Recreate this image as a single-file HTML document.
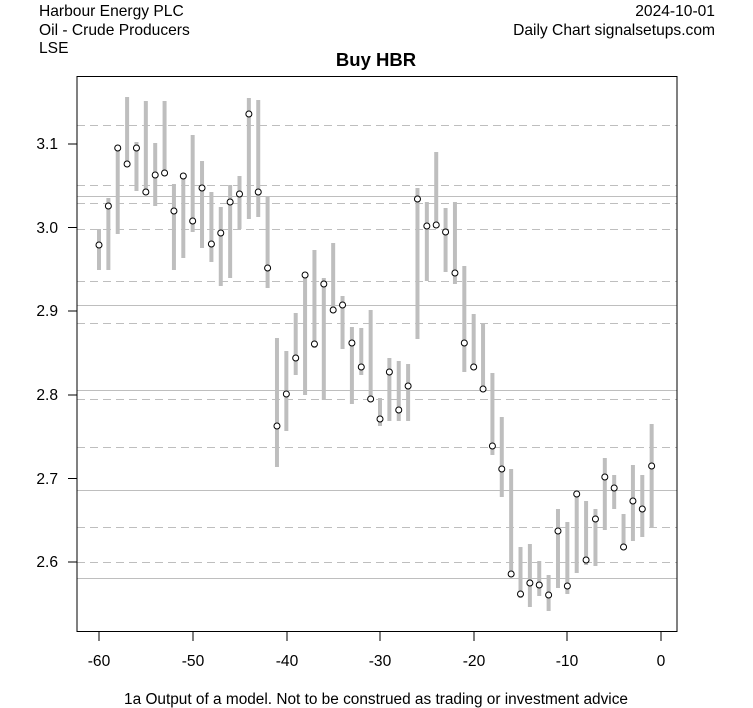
<!DOCTYPE html>
<html><head><meta charset="utf-8"><style>
html,body{margin:0;padding:0;background:#fff;}
svg{display:block;font-family:"Liberation Sans",Arial,sans-serif;}
</style></head><body>
<svg width="753" height="708" viewBox="0 0 753 708" xmlns="http://www.w3.org/2000/svg">
<rect width="753" height="708" fill="#fff"/>
<g font-size="15.6" fill="#000">
<text x="39" y="16">Harbour Energy PLC</text>
<text x="39" y="35">Oil - Crude Producers</text>
<text x="39" y="53">LSE</text>
<text x="715" y="16" text-anchor="end">2024-10-01</text>
<text x="715" y="35" text-anchor="end">Daily Chart signalsetups.com</text>
<text x="376" y="66" text-anchor="middle" font-weight="bold" font-size="18.5">Buy HBR</text>
<text x="376" y="704" text-anchor="middle" font-size="15.4">1a Output of a model. Not to be construed as trading or investment advice</text>
</g>
<g stroke="#bebebe" stroke-width="1">
<g stroke-dasharray="8,5">
<line x1="77" x2="677" y1="125.5" y2="125.5"/>
<line x1="77" x2="677" y1="185.5" y2="185.5"/>
<line x1="77" x2="677" y1="203.5" y2="203.5"/>
<line x1="77" x2="677" y1="229.5" y2="229.5"/>
<line x1="77" x2="677" y1="281.5" y2="281.5"/>
<line x1="77" x2="677" y1="323.5" y2="323.5"/>
<line x1="77" x2="677" y1="399.5" y2="399.5"/>
<line x1="77" x2="677" y1="447.5" y2="447.5"/>
<line x1="77" x2="677" y1="527.5" y2="527.5"/>
<line x1="77" x2="677" y1="562.5" y2="562.5"/>
</g>
<line x1="77" x2="677" y1="196.5" y2="196.5"/>
<line x1="77" x2="677" y1="305.5" y2="305.5"/>
<line x1="77" x2="677" y1="390.5" y2="390.5"/>
<line x1="77" x2="677" y1="490.5" y2="490.5"/>
<line x1="77" x2="677" y1="578.5" y2="578.5"/>
</g>
<g id="bars" stroke="#bebebe" stroke-width="4"></g>
<g id="pts" fill="none" stroke="#000" stroke-width="1"></g>
<rect x="77" y="76.5" width="600" height="555" fill="none" stroke="#000" stroke-width="1"/>
<g stroke="#000" stroke-width="1">
<line x1="68" x2="77" y1="144" y2="144"/>
<line x1="68" x2="77" y1="227.5" y2="227.5"/>
<line x1="68" x2="77" y1="311" y2="311"/>
<line x1="68" x2="77" y1="395" y2="395"/>
<line x1="68" x2="77" y1="478.5" y2="478.5"/>
<line x1="68" x2="77" y1="562" y2="562"/>
<line x1="99" x2="99" y1="631" y2="641"/>
<line x1="193" x2="193" y1="631" y2="641"/>
<line x1="287" x2="287" y1="631" y2="641"/>
<line x1="380" x2="380" y1="631" y2="641"/>
<line x1="474" x2="474" y1="631" y2="641"/>
<line x1="567" x2="567" y1="631" y2="641"/>
<line x1="661" x2="661" y1="631" y2="641"/>
</g>
<g font-size="15.6" fill="#000" text-anchor="end">
<text x="58" y="149">3.1</text>
<text x="58" y="233">3.0</text>
<text x="58" y="316">2.9</text>
<text x="58" y="400">2.8</text>
<text x="58" y="484">2.7</text>
<text x="58" y="567">2.6</text>
</g>
<g font-size="15.6" fill="#000" text-anchor="middle">
<text x="99" y="666">-60</text>
<text x="193" y="666">-50</text>
<text x="287" y="666">-40</text>
<text x="380" y="666">-30</text>
<text x="474" y="666">-20</text>
<text x="567" y="666">-10</text>
<text x="661" y="666">0</text>
</g>
<script>
var d=[[229,270,245],[198,270,206],[147,234,148],[97,164,164],[142,191,148],[101,192,192],[143,206,175],[101,173,173],[184,270,211],[173,258,176],[135,232,221],[161,248,188],[192,262,244],[207,286,233],[185,278,202],[176,229,194],[98,219,114],[100,217,192],[196,288,268],[338,467,426],[351,431,394],[313,375,358],[272,395,275],[250,348,344],[278,400,284],[243,312,310],[296,349,305],[327,404,343],[328,375,367],[310,400,399],[398,426,419],[358,421,372],[361,421,410],[364,421,386],[188,339,199],[202,281,226],[152,226,225],[208,272,232],[202,284,273],[266,372,343],[314,370,367],[323,390,389],[373,455,446],[417,497,469],[469,575,574],[547,598,594],[544,607,583],[561,596,585],[575,611,595],[509,588,531],[522,594,586],[490,573,494],[501,565,560],[509,566,519],[458,530,477],[475,509,488],[514,547,547],[465,541,501],[475,537,509],[424,527,466]];
var ns="http://www.w3.org/2000/svg",b=document.getElementById("bars"),p=document.getElementById("pts");
d.forEach(function(r,i){var x=99+i*9.367;
var l=document.createElementNS(ns,"line");l.setAttribute("x1",x);l.setAttribute("x2",x);l.setAttribute("y1",r[0]);l.setAttribute("y2",r[1]);b.appendChild(l);
var c=document.createElementNS(ns,"circle");c.setAttribute("cx",x);c.setAttribute("cy",r[2]);c.setAttribute("r",3);c.setAttribute("fill","#fff");p.appendChild(c);});
</script>
</svg>
</body></html>
